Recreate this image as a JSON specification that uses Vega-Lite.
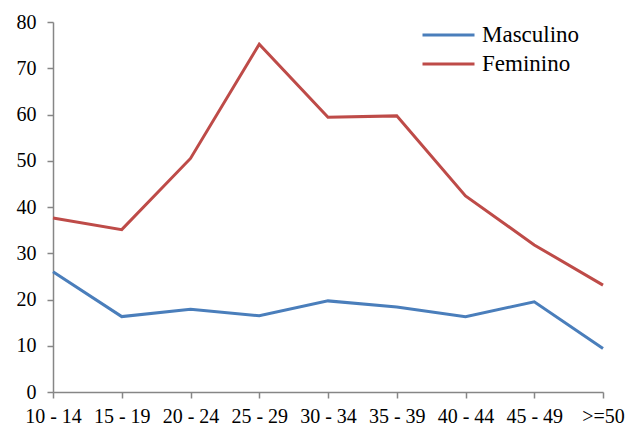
{
  "$schema": "https://vega.github.io/schema/vega-lite/v6.json",
  "autosize": "none",
  "width": 550,
  "height": 370,
  "padding": {"left": 53, "top": 22, "right": 28, "bottom": 33},
  "background": "white",
  "config": {
    "view": {"stroke": null},
    "font": "Liberation Serif",
    "axis": {"labelFont": "Liberation Serif"},
    "legend": {"labelFont": "Liberation Serif"}
  },
  "data": {
    "values": [
      {"idade": "10 - 14", "sexo": "Masculino", "valor": 26.0},
      {"idade": "15 - 19", "sexo": "Masculino", "valor": 16.3},
      {"idade": "20 - 24", "sexo": "Masculino", "valor": 17.9},
      {"idade": "25 - 29", "sexo": "Masculino", "valor": 16.5},
      {"idade": "30 - 34", "sexo": "Masculino", "valor": 19.7},
      {"idade": "35 - 39", "sexo": "Masculino", "valor": 18.4},
      {"idade": "40 - 44", "sexo": "Masculino", "valor": 16.3},
      {"idade": "45 - 49", "sexo": "Masculino", "valor": 19.5},
      {"idade": ">=50", "sexo": "Masculino", "valor": 9.4},
      {"idade": "10 - 14", "sexo": "Feminino", "valor": 37.6},
      {"idade": "15 - 19", "sexo": "Feminino", "valor": 35.1},
      {"idade": "20 - 24", "sexo": "Feminino", "valor": 50.5},
      {"idade": "25 - 29", "sexo": "Feminino", "valor": 75.2},
      {"idade": "30 - 34", "sexo": "Feminino", "valor": 59.4},
      {"idade": "35 - 39", "sexo": "Feminino", "valor": 59.7},
      {"idade": "40 - 44", "sexo": "Feminino", "valor": 42.4},
      {"idade": "45 - 49", "sexo": "Feminino", "valor": 31.8},
      {"idade": ">=50", "sexo": "Feminino", "valor": 23.1}
    ]
  },
  "mark": {"type": "line", "strokeWidth": 3},
  "encoding": {
    "x": {
      "field": "idade",
      "type": "ordinal",
      "sort": null,
      "scale": {"type": "point", "padding": 0},
      "axis": {
        "title": null,
        "labelAngle": 0,
        "labelFontSize": 20,
        "labelColor": "#000000",
        "labelPadding": 8,
        "domainColor": "#868686",
        "domainWidth": 1.5,
        "tickColor": "#868686",
        "tickWidth": 1.5,
        "tickSize": 6,
        "grid": false
      }
    },
    "y": {
      "field": "valor",
      "type": "quantitative",
      "scale": {"domain": [0, 80], "nice": false},
      "axis": {
        "title": null,
        "values": [0, 10, 20, 30, 40, 50, 60, 70, 80],
        "labelFontSize": 20,
        "labelColor": "#000000",
        "labelPadding": 11,
        "domainColor": "#868686",
        "domainWidth": 1.5,
        "tickColor": "#868686",
        "tickWidth": 1.5,
        "tickSize": 6,
        "grid": false
      }
    },
    "color": {
      "field": "sexo",
      "type": "nominal",
      "sort": ["Masculino", "Feminino"],
      "scale": {"domain": ["Masculino", "Feminino"], "range": ["#4a7ebb", "#be4b48"]},
      "legend": {
        "title": null,
        "orient": "none",
        "legendX": 368,
        "legendY": -1,
        "symbolType": "stroke",
        "symbolStrokeWidth": 3,
        "symbolSize": 2704,
        "clipHeight": 28,
        "labelFontSize": 23,
        "labelColor": "#000000",
        "labelOffset": 6,
        "rowPadding": 1
      }
    }
  }
}
